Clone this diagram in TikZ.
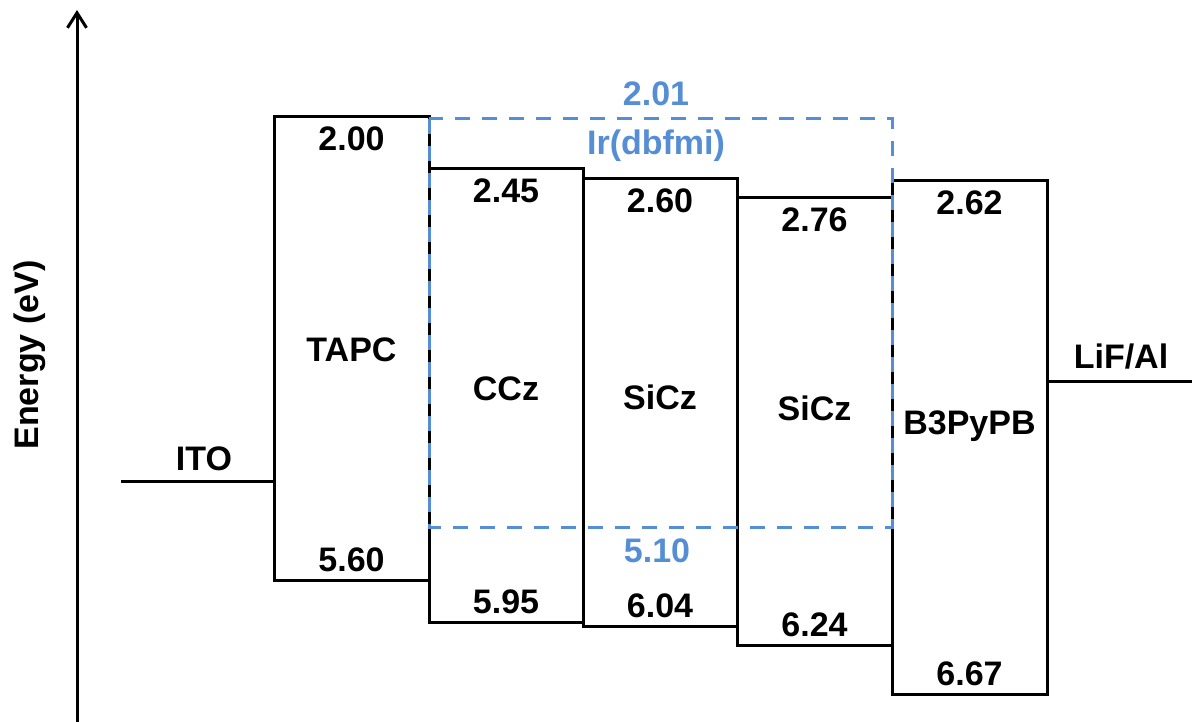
\documentclass[tikz,border=0pt]{standalone}
\usepackage{fontspec}
\setmainfont{Liberation Sans}
\usetikzlibrary{arrows.meta}
\definecolor{dopant}{HTML}{558ED5}
\newcommand{\lblfont}{\bfseries\fontsize{34}{40}\selectfont}

\begin{document}
\begin{tikzpicture}[x=1pt, y=-1pt, line width=3pt,
    lvl/.style={font=\lblfont, inner sep=0pt, anchor=base}]
  \useasboundingbox (0,0) rectangle (1192,722);

  % energy axis
  \coordinate (axbot) at (77,722);
  \coordinate (axtop) at (77,10);
  \draw[-{Straight Barb[length=15pt,width=19pt]}] (axbot) -- (axtop);
  \node[lvl, rotate=90] (ylab) at (38.5,355) {Energy (eV)};

  % layers: x left / x right / LUMO y / HOMO y / LUMO / HOMO / name / name base
  \foreach \i/\xl/\xr/\yt/\yb/\lumo/\homo/\nm/\ny in {
      1/274/429/117/580/2.00/5.60/TAPC/361.5,
      2/429/583/169/622/2.45/5.95/CCz/400.5,
      3/583/737/179/626/2.60/6.04/SiCz/409,
      4/737/892/198/645/2.76/6.24/SiCz/420,
      5/892/1047/181/694/2.62/6.67/B3PyPB/434} {
    \draw (\xl,\yt) rectangle (\xr,\yb);
    \node[lvl] (lumo\i) at ({(\xl+\xr)/2},\yt+33.5) {\lumo};
    \node[lvl] (homo\i) at ({(\xl+\xr)/2},\yb-8.5) {\homo};
    \node[lvl] (mat\i) at ({(\xl+\xr)/2},\ny) {\nm};
  }

  % electrodes
  \coordinate (ito) at (121,481);
  \coordinate (itoend) at (274,481);
  \coordinate (cath) at (1047,381);
  \coordinate (cathend) at (1192,381);
  \draw (ito) -- (itoend);
  \draw (cath) -- (cathend);
  \node[lvl] (itolab) at (204,470) {ITO};
  \node[lvl] (cathlab) at (1121,368) {LiF/Al};

  % Ir(dbfmi) dopant levels
  \draw[dopant, dash pattern=on 15pt off 12pt] (429,119) rectangle (892,527);
  \node[lvl, text=dopant] (dlumo) at (656,106) {2.01};
  \node[lvl, text=dopant] (dname) at (656,154.5) {Ir(dbfmi)};
  \node[lvl, text=dopant] (dhomo) at (657,562) {5.10};
\end{tikzpicture}
\end{document}
